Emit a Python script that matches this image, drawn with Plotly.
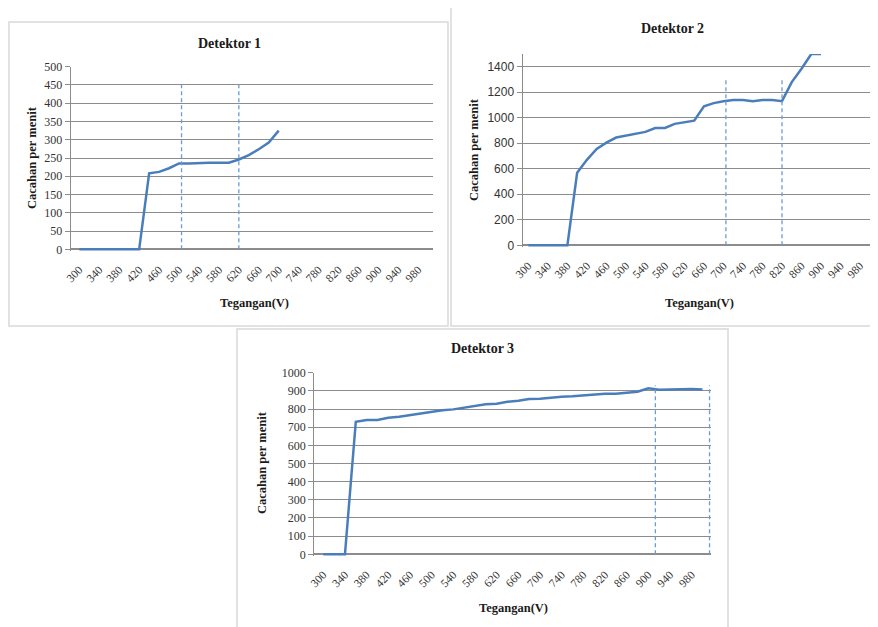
import plotly.graph_objects as go

W, H = 878, 627
OFF = 8  # page body margin of the browser

# ---------------- data ----------------
volts_1 = [300, 320, 340, 360, 380, 400, 420, 440, 460, 480, 500, 520, 540, 560, 580,
           600, 620, 640, 660, 680, 700]
counts_1 = [0, 0, 0, 0, 0, 0, 0, 208, 212, 222, 235, 235, 237, 237, 237,
            237, 246, 258, 274, 292, 325]
plateau_1 = [505, 620]

volts_2 = [300, 320, 340, 360, 380, 400, 420, 440, 460, 480, 500, 520, 540, 560, 580,
           600, 620, 640, 660, 680, 700, 720, 740, 760, 780, 800, 820, 840, 860, 880, 900]
counts_2 = [0, 0, 0, 0, 0, 568, 670, 755, 805, 845, 860, 880, 889, 920, 920,
            952, 962, 977, 1090, 1115, 1130, 1140, 1140, 1130, 1140, 1140, 1130, 1280, 1385, 1500, 1500]
plateau_2 = [705, 820]

volts_3 = [300, 320, 340, 360, 380, 400, 420, 440, 460, 480, 500, 520, 540, 560, 580,
           600, 620, 640, 660, 680, 700, 720, 740, 760, 780, 800, 820, 840, 860, 880,
           900, 920, 940, 960, 980, 1000]
counts_3 = [0, 0, 0, 730, 740, 740, 752, 758, 767, 776, 782, 793, 798, 807, 815,
            826, 829, 840, 846, 855, 857, 864, 868, 870, 875, 881, 884, 884, 890, 895,
            914, 906, 908, 910, 910, 908]
plateau_3 = [913, 1013]

titles = ["Detektor 1", "Detektor 2", "Detektor 3"]
x_title = "Tegangan(V)"
y_title = "Cacahan per menit"

# ---------------- layout helpers ----------------
def px(x):
    return (x - OFF) / W

def py(y):
    return 1 - (y - OFF) / H

LINE = "#4A7EBB"
DASH = "#6A9BD8"
GRID = "#8C8C8C"
FRAME = "#D9D9D9"
SERIF = "Liberation Serif, Times New Roman, serif"
PAD = 1.6  # px of room below the zero line so the curve at 0 is not clipped

fig = go.Figure()

panels = [
    dict(x=volts_1, y=counts_1, plat=plateau_1, box=(70.7, 66.7, 432.7, 249.3),
         xr=[282.6, 1009], ymax=500, dt=50, dtop=455, ytickfont=SERIF,
         frame=(9, 22, 448, 326), title=(229, 43), xt=(254, 303), yt=(32, 158)),
    dict(x=volts_2, y=counts_2, plat=plateau_2, box=(522.7, 54, 876, 245.3),
         xr=[288.4, 1012.7], ymax=1500, dt=200, dtop=1315,
         ytickfont="Liberation Sans Narrow, Liberation Sans, Arial, sans-serif",
         frame=(451, 7, 882, 326), title=(672, 28), xt=(699, 303), yt=(474, 150)),
    dict(x=volts_3, y=counts_3, plat=plateau_3, box=(314.3, 372.7, 711, 554.3),
         xr=[283.4, 1015.7], ymax=1000, dt=100, dtop=930, ytickfont=SERIF,
         frame=(237, 329, 728, 632), title=(483, 348), xt=(513, 608), yt=(262, 463)),
]

shapes = []
annotations = []
for i, p in enumerate(panels, start=1):
    sfx = "" if i == 1 else str(i)
    l, t, r, b = p["box"]
    per_px = p["ymax"] / (b - t)
    ymin = -PAD * per_px
    fig.add_trace(go.Scatter(
        x=p["x"], y=p["y"], mode="lines",
        line=dict(color=LINE, width=2.5),
        xaxis="x" + sfx, yaxis="y" + sfx, showlegend=False, hoverinfo="x+y"))
    fig.update_layout(**{
        "xaxis" + sfx: dict(
            domain=[px(l), px(r)], range=p["xr"], anchor="y" + sfx, automargin=False,
            tick0=300, dtick=40, tickangle=-45, showgrid=False, zeroline=False,
            showline=False, ticks="", ticklabelstandoff=9,
            tickfont=dict(family=SERIF, size=11.5, color="#333333")),
        "yaxis" + sfx: dict(
            domain=[py(b + PAD), py(t)], range=[ymin, p["ymax"]], anchor="x" + sfx,
            automargin=False,
            tick0=0, dtick=p["dt"], showgrid=True, gridcolor=GRID, gridwidth=1.3,
            zeroline=True, zerolinecolor=GRID, zerolinewidth=1.5,
            showline=True, linecolor=GRID, linewidth=1.3,
            ticks="outside", ticklen=5, tickcolor=GRID,
            tickfont=dict(family=p["ytickfont"], size=12, color="#333333")),
    })
    fl, ft, fr, fb = p["frame"]
    shapes.append(dict(type="rect", xref="paper", yref="paper",
                       x0=px(fl), x1=px(fr), y0=py(fb), y1=py(ft),
                       line=dict(color=FRAME, width=1.5), layer="below"))
    for v in p["plat"]:
        shapes.append(dict(type="line", xref="x" + sfx, yref="y" + sfx,
                           x0=v, x1=v, y0=0, y1=p["dtop"],
                           line=dict(color=DASH, width=1.3, dash="4px,3px"), layer="above"))
    annotations.append(dict(text="<b>" + titles[i - 1] + "</b>", xref="paper", yref="paper",
                            x=px(p["title"][0]), y=py(p["title"][1]), showarrow=False,
                            font=dict(family=SERIF, size=14, color="#1a1a1a"),
                            xanchor="center", yanchor="middle"))
    annotations.append(dict(text="<b>" + x_title + "</b>", xref="paper", yref="paper",
                            x=px(p["xt"][0]), y=py(p["xt"][1]), showarrow=False,
                            font=dict(family=SERIF, size=12.5, color="#1a1a1a"),
                            xanchor="center", yanchor="middle"))
    annotations.append(dict(text="<b>" + y_title + "</b>", xref="paper", yref="paper",
                            x=px(p["yt"][0]), y=py(p["yt"][1]), showarrow=False, textangle=-90,
                            font=dict(family=SERIF, size=12.5, color="#1a1a1a"),
                            xanchor="center", yanchor="middle"))

fig.update_layout(
    width=W, height=H, margin=dict(l=0, r=0, t=0, b=0, autoexpand=False),
    paper_bgcolor="white", plot_bgcolor="white",
    shapes=shapes, annotations=annotations, showlegend=False,
)

fig.write_html("out.html")
